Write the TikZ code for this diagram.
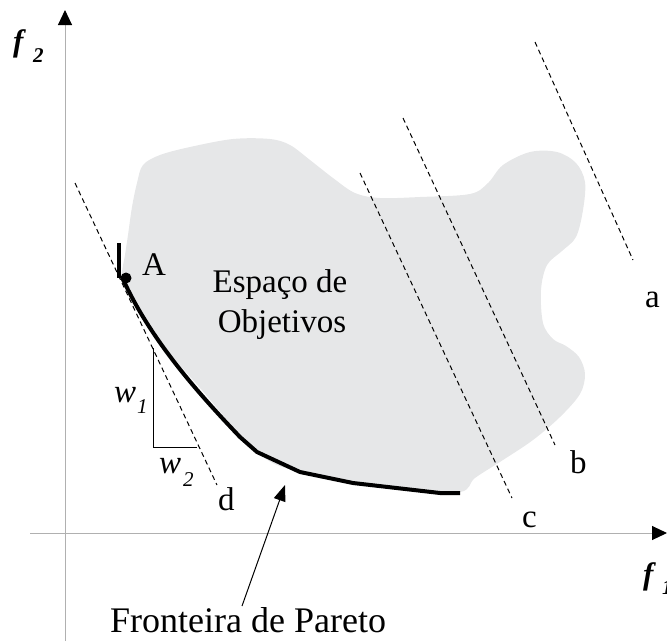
\documentclass[tikz,border=0pt]{standalone}
\usepackage{fontspec}
\setmainfont{Liberation Serif}
\usetikzlibrary{arrows.meta}
\definecolor{regiongray}{HTML}{E6E7E8}
\definecolor{axisgray}{HTML}{B0B0B0}
\tikzset{
  axisline/.style={draw=axisgray, line width=1pt, -{Triangle[length=15pt,width=14pt,fill=black,color=black]}},
  levelline/.style={draw=black, line width=1pt, dash pattern=on 5pt off 3.5pt},
  front/.style={draw=black, line width=4pt, line join=round},
  lbl/.style={inner sep=0pt, anchor=base west, font=\fontsize{33}{36}\selectfont},
  sublbl/.style={inner sep=0pt, anchor=base west, font=\fontsize{21}{24}\selectfont\itshape},
  fvar/.style={inner sep=0pt, anchor=base west, font=\fontsize{31}{34}\selectfont\bfseries\itshape},
}
\begin{document}
\begin{tikzpicture}[x=1pt,y=-1pt]
\useasboundingbox (0,0) rectangle (667,641);
% objective space region
\fill[regiongray] plot[smooth cycle, tension=0.55] coordinates {
 (122,277) (125,255) (128,235) (132,207) (137,183) (143,165) (160,155) (190,147) (233,139) (270,139) (290,145)
 (310,160) (333,178) (355,193) (380,198) (420,197) (470,194) (488,183) (503,165) (530,152) (557,152) (576,163)
 (585,182) (583,210) (576,237) (562,251) (547,265) (541,290) (543,323) (553,339) (566,346) (579,357) (585,374)
 (580,394) (560,417) (533,440) (503,460) (475,478) (460,492) (400,490) (300,472) (257,452) (200,388) (150,330) (130,295)};
% axes
\coordinate (yorig) at (65,641);
\coordinate (ytip) at (65,10);
\coordinate (xorig) at (30,533);
\coordinate (xtip) at (667,533);
\draw[axisline] (yorig) -- (ytip);
\draw[axisline] (xorig) -- (xtip);
\node[fvar] (f2) at (13,51) {f};
\node[sublbl, font=\fontsize{21}{24}\selectfont\bfseries\itshape] (f2s) at (33,62) {2};
\node[fvar] (f1) at (643,584) {f};
\node[sublbl, font=\fontsize{21}{24}\selectfont\bfseries\itshape] (f1s) at (662,594) {1};
% level lines
\coordinate (da) at (75,183); \coordinate (db) at (217,485);
\coordinate (ca) at (360,173); \coordinate (cb) at (512,498);
\coordinate (ba) at (403,118); \coordinate (bb) at (555,445);
\coordinate (aa) at (535,42);  \coordinate (ab) at (633,260);
\draw[levelline] (da) -- (db);
\draw[levelline] (ca) -- (cb);
\draw[levelline] (ba) -- (bb);
\draw[levelline] (aa) -- (ab);
\node[lbl] (la) at (645,307) {a};
\node[lbl] (lb) at (570,473) {b};
\node[lbl] (lc) at (522,527) {c};
\node[lbl] (ld) at (218,510) {d};
% Pareto front
\draw[front] (122,277) .. controls (150,340) and (200,395) .. (240,437) -- (257,452) -- (300,472) -- (353,483) -- (440,493) -- (460,493);
\coordinate (barTop) at (119,243);
\coordinate (barBot) at (119,278);
\draw[black, line width=4pt] (barTop) -- (barBot);
\fill[black] (126,278) circle (5.5pt);
\node[lbl] (A) at (142,275) {A};
% slope triangle
\coordinate (t1) at (153,348); \coordinate (t2) at (153,447); \coordinate (t3) at (197,447);
\draw[black, line width=1pt] (t1) -- (t2) -- (t3);
\node[lbl, font=\fontsize{33}{36}\selectfont\itshape] (w1) at (114,402) {w};
\node[sublbl] (w1s) at (137,413) {1};
\node[lbl, font=\fontsize{33}{36}\selectfont\itshape] (w2) at (159,473) {w};
\node[sublbl] (w2s) at (183,486) {2};
% region label
\node[lbl, anchor=base] (esp) at (280,292) {Espaço de};
\node[lbl, anchor=base] (obj) at (282,332) {Objetivos};
% front label
\node[lbl, font=\fontsize{36}{40}\selectfont] (fp) at (110,632) {Fronteira de Pareto};
\coordinate (ftip) at (285,485);
\coordinate (fbase) at (242,606);
\draw[black, line width=1pt, -{Triangle[length=16pt,width=12pt]}] (fbase) -- (ftip);
\end{tikzpicture}
\end{document}
